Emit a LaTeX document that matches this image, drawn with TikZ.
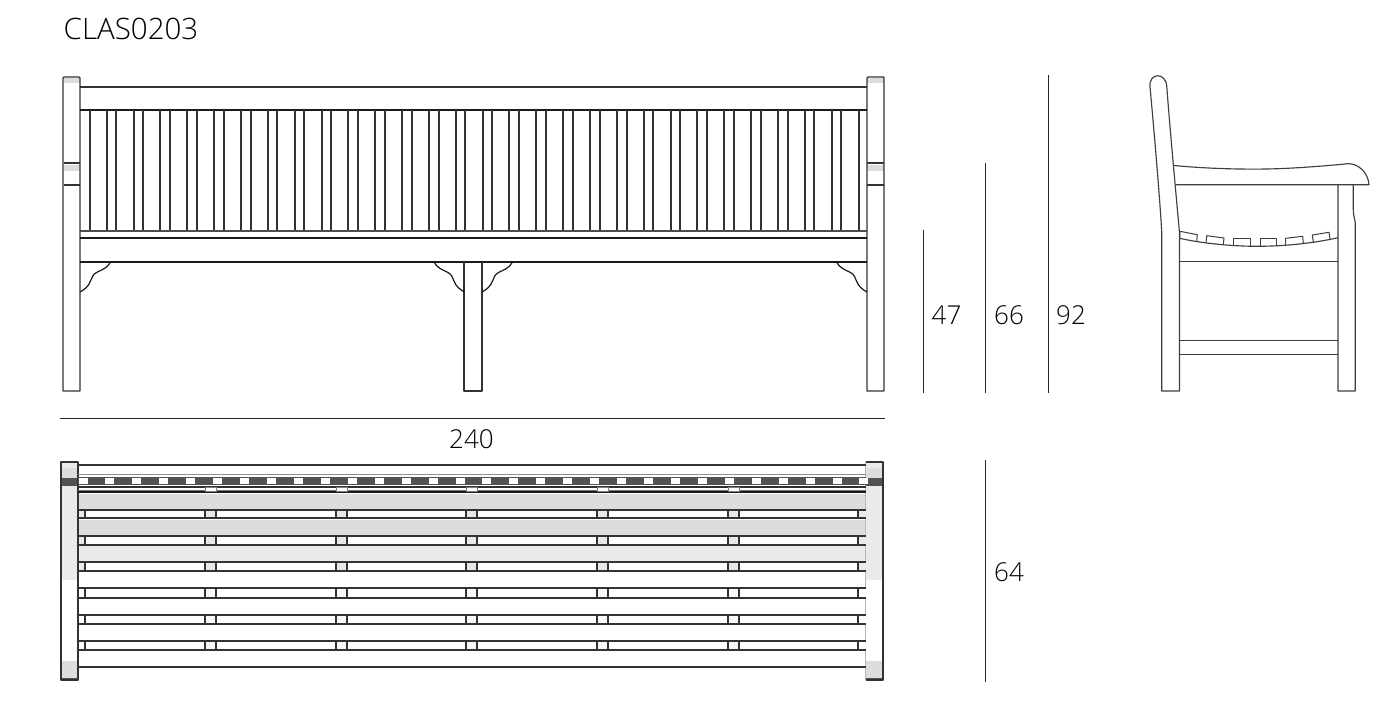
\documentclass[tikz,border=0pt]{standalone}
\usepackage{fontspec}
\setmainfont{Open Sans}[UprightFont=* Light]
\definecolor{ln}{HTML}{333333}
\definecolor{sd}{HTML}{404040}
\definecolor{dk}{HTML}{1A1A1A}
\definecolor{gr}{HTML}{DCDDDE}
\definecolor{grl}{HTML}{E9EBEA}
\definecolor{band}{HTML}{525252}
\tikzset{
  x=1pt,y=-1pt,
  part/.style={draw=ln,line width=1.4pt,line join=round},
  side/.style={draw=sd,line width=1.15pt,line join=round},
  curvy/.style={draw=dk,line width=1.2pt,line join=round},
  heavy/.style={draw=dk,line width=1.5pt},
  dimline/.style={draw=black!85,line width=.85pt},
  slatline/.style={fill=ln,draw=none},
  dimtext/.style={font=\fontsize{26}{26}\selectfont,text=black,inner sep=0pt,anchor=center},
}
\begin{document}
\begin{tikzpicture}
\useasboundingbox[fill=white] (0,0) rectangle (1397,711);
% title
\node[font=\fontsize{29.5}{29.5}\selectfont,text=black,inner sep=0pt,anchor=west] (title) at (63.5,29) {CLAS0203};
% ---------- FRONT VIEW
\fill[gr] (64,78) rectangle (80,83);
\fill[gr] (867,78) rectangle (884,83);
\fill[gr] (64,165) rectangle (80,171);
\fill[gr] (867,165) rectangle (884,171);
\draw[part] (63,391) -- (63,78) -- (64,77) -- (79,77) -- (80,78) -- (80,391) -- cycle;
\draw[part] (867,391) -- (867,78) -- (868,77) -- (883,77) -- (884,78) -- (884,391) -- cycle;
\draw[part] (64,163) -- (80,163) (64,185) -- (80,185);
\draw[part] (867,163) -- (884,163) (867,185) -- (884,185);
\draw[part] (80,87) -- (867,87);
\draw[heavy] (80,110) -- (867,110);
\foreach \k in {0,...,28}{
  \pgfmathsetmacro{\xa}{round(89.5+26.85*\k)}
  \pgfmathsetmacro{\xb}{round(106.7+26.85*\k)}
  \fill[slatline] (\xa-.65,110) rectangle (\xa+.65,231);
  \fill[slatline] (\xb-.65,110) rectangle (\xb+.65,231);
}
\draw[part,draw=black!70] (80,231) -- (867,231);
\draw[heavy] (80,238) -- (867,238);
\draw[heavy] (80,262) -- (867,262);
% legs and brackets
\draw[part] (464,262) -- (464,391) -- (482,391) -- (482,262);
\draw[curvy] (434,262) .. controls (437,268) and (443,270) .. (447,272)
   .. controls (452,274) and (452.5,278) .. (454,281) .. controls (456,287) and (461,290) .. (464.5,292);
\draw[curvy] (512.5,262) .. controls (509.5,268) and (503.5,270) .. (499.5,272)
   .. controls (494.5,274) and (494,278) .. (492.5,281) .. controls (490.5,287) and (485.5,290) .. (482,292);
\draw[curvy] (110.5,262) .. controls (107.5,268) and (101.5,270) .. (97.5,272)
   .. controls (92.5,274) and (92,278) .. (90.5,281) .. controls (88.5,287) and (83.5,290) .. (80,292);
\draw[curvy] (836.5,262) .. controls (839.5,268) and (845.5,270) .. (849.5,272)
   .. controls (854.5,274) and (855,278) .. (856.5,281) .. controls (858.5,287) and (863.5,290) .. (867,292);
% ---------- DIMENSIONS
\draw[dimline] (923.5,230) -- (923.5,393);
\draw[dimline] (985.5,163) -- (985.5,393);
\draw[dimline] (1048,75) -- (1048,393);
\draw[dimline] (985.5,460) -- (985.5,682);
\draw[dimline] (60,418.5) -- (885,418.5);
\node[dimtext] (d47) at (946.5,315) {47};
\node[dimtext] (d66) at (1009,315) {66};
\node[dimtext] (d92) at (1071,315) {92};
\node[dimtext] (d240) at (471.5,439) {240};
\node[dimtext] (d64) at (1009,572) {64};
% ---------- SIDE VIEW
\draw[side] (1161.7,391) -- (1161.7,232) .. controls (1160,200) and (1154,130) .. (1150,87)
  .. controls (1148.5,72) and (1166.5,72) .. (1166.8,87) .. controls (1170,130) and (1177,205) .. (1179.5,233)
  -- (1179.5,391) -- cycle;
\draw[side] (1174,165.5) .. controls (1205,168.5) and (1240,169.5) .. (1267,169)
  .. controls (1295,168.5) and (1330,165.5) .. (1348,163.7)
  .. controls (1358,163.5) and (1368,172) .. (1369,184.7) -- (1175.5,184.7);
\draw[side] (1338,184.7) -- (1338,391) -- (1355.3,391) -- (1355.3,223) .. controls (1354.5,218) and (1353.3,215) .. (1353.3,210) -- (1353.3,184.7);
\draw[side] (1179.5,238.3) .. controls (1205,244) and (1235,246.3) .. (1257,246.3) .. controls (1285,246.3) and (1315,243) .. (1338,237.7);
\draw[side] (1179.5,261.7) -- (1338,261.7);
\draw[side] (1179.5,340.7) -- (1338,340.7);
\draw[side] (1179.5,354.3) -- (1338,354.3);
% seat slats, side on
\draw[side,line width=1pt] (1179.8,238) -- (1180,231.3) -- (1197.3,234.7) -- (1196.7,241.7);
\draw[side,line width=1pt] (1206,242.3) -- (1206.7,235.7) -- (1224,238) -- (1223.3,244.3);
\draw[side,line width=1pt] (1233.3,245.3) -- (1233.3,238.7) -- (1250.7,238.7) -- (1250.7,246);
\draw[side,line width=1pt] (1260,246.3) -- (1260,239) -- (1276.3,239) -- (1276.3,246.3);
\draw[side,line width=1pt] (1285.7,245) -- (1285.7,238.3) -- (1302.7,236.3) -- (1303.3,243.3);
\draw[side,line width=1pt] (1313.3,242) -- (1312.3,235) -- (1329,232.3) -- (1330,239);
% ---------- TOP VIEW
% posts
\foreach \px in {60.5,865.7}{
  \fill[grl] (\px,486) rectangle ++(17.3,94);
  \fill[grl] (\px,462) rectangle ++(17.3,16);
  \fill[gr] (\px,468) rectangle ++(17.3,10);
  \fill[gr] (\px,661) rectangle ++(17.3,17);
  \fill[band] (\px,478) rectangle ++(17.3,8);
  \fill[band] (\px,677.5) rectangle ++(17.3,3);
}
\draw[part] (61,680) -- (61,462) -- (78,462) -- (78,680) -- cycle;
\draw[part] (866,462) -- (883,462) -- (883,680) -- (866,680);
\draw[draw=black!28,line width=.8pt] (865.7,462) -- (865.7,680);
% back rail
\draw[part] (78,465) -- (865.7,465);
\draw[draw=black!45,line width=.9pt] (78,474) -- (865.7,474);
\fill[band] (78,477) rectangle (865.7,485);
\foreach \k in {0,...,29}{
  \pgfmathsetmacro{\wx}{floor(79+26.93*\k)}
  \fill[white] (\wx,478) rectangle ++(9,6);
}
\fill[dk!90] (78,485.5) rectangle (865.7,488);
\draw[draw=black!55,line width=.8pt] (78,490) -- (865.7,490);
\draw[heavy] (78,492) -- (865.7,492);
% grey slats
\fill[gr] (79,494) rectangle (864.5,509);
\fill[gr] (79,520) rectangle (864.5,535);
\fill[grl] (79,546) rectangle (864.5,561);
% rows
\foreach \ya/\yb/\fl in {510/518/grl, 536/545/grl, 562/571/grl, 588/598/white, 615/624/white, 641/650/white}{
  \fill[\fl] (78.5,\ya) rectangle (84.7,\yb);
  \fill[\fl] (858.3,\ya) rectangle (865.5,\yb);
  \foreach \bx in {205,336,466,597,728}{
    \fill[\fl!80!gr] (\bx,\ya) rectangle ++(10.5,\yb-\ya);
    \fill[slatline] (\bx-.65,\ya) rectangle (\bx+.65,\yb);
    \fill[slatline] (\bx+10.35,\ya) rectangle (\bx+11.65,\yb);
  }
  \fill[slatline] (84.35,\ya) rectangle (85.65,\yb);
  \fill[slatline] (857.35,\ya) rectangle (858.65,\yb);
  \fill[slatline] (78,\ya-.65) rectangle (865.7,\ya+.65);
  \fill[slatline] (78,\yb-.65) rectangle (865.7,\yb+.65);
}
% blocks on the back rail
\foreach \bx in {205,336,466,597,728}{
  \fill[white] (\bx,487.5) rectangle ++(11,4);
  \draw[draw=black!50,line width=.6pt] (\bx,487.5) rectangle ++(11,4);
}
\draw[part] (78,667) -- (865.7,667);
\end{tikzpicture}
\end{document}
